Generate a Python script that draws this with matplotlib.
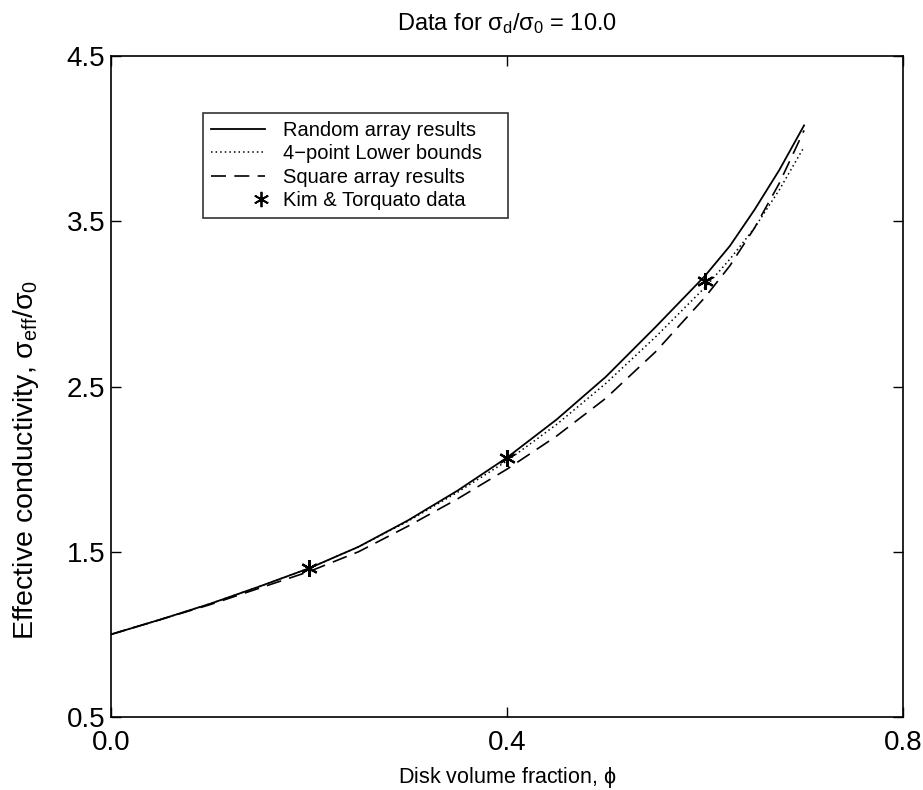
import matplotlib
import matplotlib.pyplot as plt
from matplotlib.legend_handler import HandlerBase
from matplotlib.lines import Line2D

matplotlib.use('Agg')

plt.rcParams['font.family'] = ['Liberation Sans', 'DejaVu Sans']
plt.rcParams['mathtext.fontset'] = 'custom'
plt.rcParams['mathtext.rm'] = 'Liberation Sans'
plt.rcParams['mathtext.it'] = 'Liberation Sans'

# volume fraction grid shared by the three curves
phi = [0.0, 0.05, 0.1, 0.15, 0.2, 0.25, 0.3, 0.35, 0.4, 0.45, 0.5, 0.55, 0.6,
       0.625, 0.65, 0.675, 0.7]

random_array = [1.0, 1.09, 1.185, 1.29, 1.40, 1.53, 1.69, 1.87, 2.07, 2.30, 2.56, 2.86, 3.17,
                3.35, 3.57, 3.81, 4.08]
lower_bound = [1.0, 1.09, 1.185, 1.29, 1.40, 1.53, 1.685, 1.86, 2.05, 2.27, 2.52, 2.80, 3.10,
               3.27, 3.46, 3.69, 3.95]
square_array = [1.0, 1.09, 1.18, 1.28, 1.38, 1.50, 1.655, 1.82, 2.00, 2.20, 2.43, 2.71, 3.04,
                3.23, 3.46, 3.73, 4.05]

kt_phi = [0.2, 0.4, 0.6]
kt_sigma = [1.40, 2.07, 3.14]

x_ticks = [0.0, 0.4, 0.8]
y_ticks = [0.5, 1.5, 2.5, 3.5, 4.5]

ASTERISK = (6, 2, 0)


class StarAtEnd(HandlerBase):
    # legend handle with the marker sitting at the right end of the handle box
    def create_artists(self, legend, orig_handle, xdescent, ydescent,
                       width, height, fontsize, trans):
        mark = Line2D([width - xdescent - 3], [height / 2 - ydescent],
                      marker=ASTERISK, ls='none', color='k',
                      markersize=11, markeredgewidth=1.3, transform=trans)
        return [mark]


fig = plt.figure(figsize=(9.23, 7.90), dpi=100)
ax = fig.add_axes([0.1203, 0.0924, 0.8581, 0.8367])

ax.plot(phi, random_array, color='k', lw=1.3, label='Random array results')
ax.plot(phi, lower_bound, color='k', lw=1.1, ls=(0, (1, 2)), label='4\u2212point Lower bounds')
ax.plot(phi, square_array, color='k', lw=1.2, ls=(0, (9, 5)), label='Square array results')
kt, = ax.plot(kt_phi, kt_sigma, ls='none', marker=ASTERISK, color='k',
              markersize=12, markeredgewidth=1.6, label='Kim & Torquato data')

ax.set_xlim(0.0, 0.8)
ax.set_ylim(0.5, 4.5)
ax.set_xticks(x_ticks)
ax.set_xticklabels([f'{v:.1f}' for v in x_ticks])
ax.set_yticks(y_ticks)
ax.set_yticklabels([f'{v:.1f}' for v in y_ticks])
ax.tick_params(direction='in', length=7, width=1, labelsize=20,
               top=True, right=True)
ax.tick_params(axis='y', pad=4)
ax.tick_params(axis='x', pad=9)

for s in ax.spines.values():
    s.set_linewidth(1.2)

ax.set_xlabel('Disk volume fraction, $\\phi$', fontsize=15.5, labelpad=7)
ax.set_ylabel('Effective conductivity, $\\sigma_{\\mathrm{eff}}/\\sigma_0$', fontsize=20.5)
ax.yaxis.set_label_coords(-0.088, 0.389)
ax.set_title('Data for $\\sigma_d/\\sigma_0$ = 10.0', fontsize=17, pad=19)

leg = ax.legend(loc='upper left', bbox_to_anchor=(0.116, 0.5, 0.385, 0.414),
                mode='expand', borderaxespad=0,
                fontsize=14.5, handlelength=2.7, handletextpad=0.9, labelspacing=0.22,
                borderpad=0.4, fancybox=False, frameon=True,
                handler_map={kt: StarAtEnd()})
leg.get_frame().set_edgecolor('k')
leg.get_frame().set_linewidth(1.2)

fig.savefig('out.png', dpi=100)
